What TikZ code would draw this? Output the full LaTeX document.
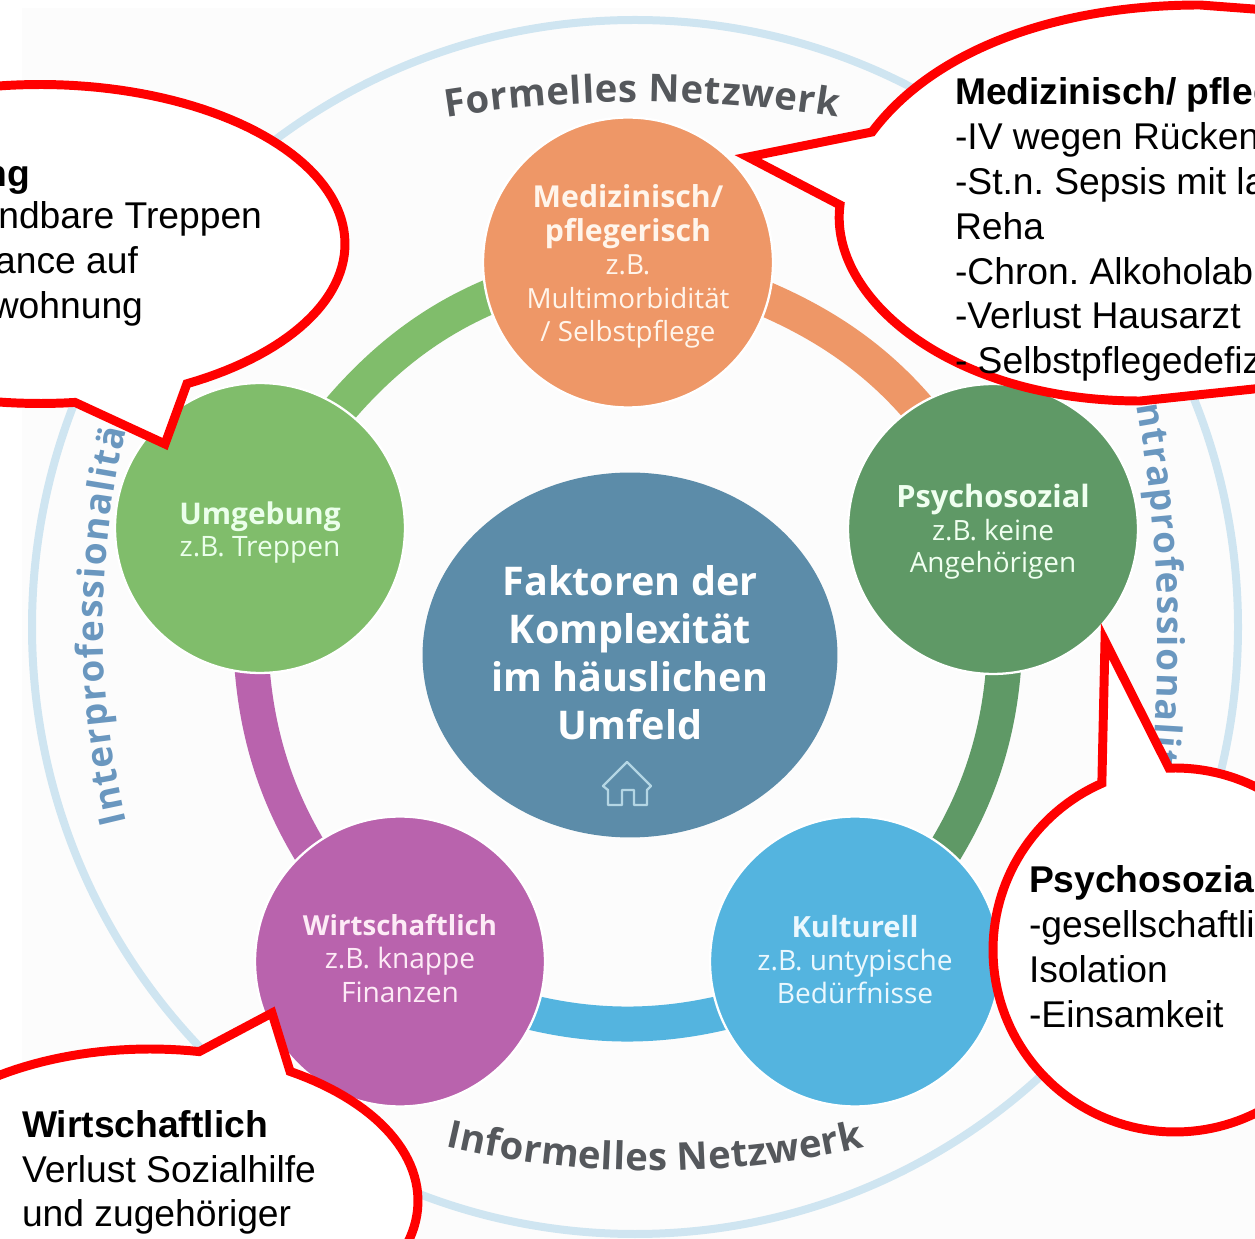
\documentclass[tikz,border=0pt]{standalone}
\usepackage{fontspec}
\setmainfont{Open Sans}
\newfontfamily\callfont{Liberation Sans}
\usetikzlibrary{decorations.text,shapes.geometric}
\pgfdeclarelayer{bgl}
\pgfdeclarelayer{arcl}
\pgfsetlayers{bgl,arcl,main}
\frenchspacing
\definecolor{cOrange}{HTML}{EE9767}
\definecolor{cGreen}{HTML}{80BD6B}
\definecolor{cDark}{HTML}{5F9966}
\definecolor{cBlue}{HTML}{54B4DF}
\definecolor{cPurple}{HTML}{B963AD}
\definecolor{cCentre}{HTML}{5C8CA9}
\definecolor{cRing}{HTML}{CFE5F1}
\definecolor{cLabel}{HTML}{55585C}
\definecolor{cSide}{HTML}{6A97BF}
\definecolor{cRed}{HTML}{FF0000}
\definecolor{cHouse}{HTML}{B4D6E4}
\tikzset{
  unit/.style={x=0.02cm,y=-0.02cm},
  factor/.style={circle,draw=white,line width=1.3pt,minimum size=5.8cm,inner sep=0pt,outer sep=0pt},
  factext/.style={inner sep=0pt,outer sep=0pt,align=center},
  band/.style={line width=0.7cm,line cap=butt,looseness=.86,shorten >=-4pt,shorten <=-4pt},
  callout/.style={draw=cRed,fill=white,line width=5.1pt,line join=miter,miter limit=10},
  calltext/.style={font=\callfont\fontsize{21.2}{25.6}\selectfont,text=black,inner sep=0pt,outer sep=0pt,anchor=base west},
  callend/.style={calltext,anchor=base east},
}
\newcommand{\hd}[2]{{\fontsize{#1}{19}\selectfont\bfseries #2}}
\begin{document}
\begin{tikzpicture}[unit]
\useasboundingbox (0,0) rectangle (1255,1239);
\clip (0,0) rectangle (1255,1239);
\begin{pgfonlayer}{bgl}
\fill[white] (0,0) rectangle (1255,1239);
\fill[white!99!black] (22,8) rectangle (1255,1239);
\draw[cRing,line width=0.16cm] (635,627) ellipse [x radius=603,y radius=607];
\end{pgfonlayer}
% factor circles
\node[factor,fill=cOrange] (med) at (628,262.5) {};
\node[factor,fill=cGreen] (umg) at (260,528) {};
\node[factor,fill=cDark] (psy) at (993,529) {};
\node[factor,fill=cPurple] (wir) at (400,961.5) {};
\node[factor,fill=cBlue] (kul) at (855,961.5) {};
\node[factext,text=orange!8!white,font=\fontsize{15.8}{19}\selectfont] (medtext) at (628,266.5)
  {\hd{17.2}{Medizinisch/}\\ \hd{17.2}{pflegerisch}\\ z.B.\\ Multimorbidität\\ / Selbstpflege};
\node[factext,text=green!8!white,font=\fontsize{16}{18.7}\selectfont] (umgtext) at (260,532.5)
  {\hd{17}{Umgebung}\\ z.B. Treppen};
\node[factext,text=green!6!white,font=\fontsize{15.9}{18.5}\selectfont] (psytext) at (993,532)
  {\hd{17.5}{Psychosozial}\\ z.B. keine\\ Angehörigen};
\node[factext,text=magenta!8!white,font=\fontsize{16}{19}\selectfont] (wirtext) at (400,958.5)
  {\hd{15.7}{Wirtschaftlich}\\ z.B. knappe\\ Finanzen};
\node[factext,text=cyan!8!white,font=\fontsize{16}{18.8}\selectfont] (kultext) at (855,959.5)
  {\hd{16.6}{Kulturell}\\ z.B. untypische\\ Bedürfnisse};
\node[ellipse,fill=cCentre,minimum width=8.3cm,minimum height=7.3cm,inner sep=0pt] (centre) at (630,655) {};
\node[inner sep=0pt,align=center,text=white,font=\fontsize{22.5}{27.3}\selectfont\bfseries] (centretext) at (630,653)
  {Faktoren der\\ Komplexität\\ im häuslichen\\ Umfeld};
% house
\draw[cHouse,line width=1.3pt,line join=round] (603,786) -- (627,762) -- (651,786) -- (647,790) -- (647,805) -- (634,805) -- (634,790) -- (622,790) -- (622,805) -- (608,805) -- (608,790) -- cycle;
% connecting bands
\begin{pgfonlayer}{arcl}
\draw[band,cGreen] (umg.56.7) to[out=49.8,in=202.5] (med.194.7);
\draw[band,cOrange] (med.-15.4) to[out=-22.9,in=130.2] (psy.122);
\draw[band,cDark] (psy.-86.5) to[out=-94.3,in=58.1] (kul.51);
\draw[band,cBlue] (kul.201.3) to[out=-166.3,in=-13.8] (wir.-21.3);
\draw[band,cPurple] (wir.129.3) to[out=121.7,in=274.3] (umg.267);
\end{pgfonlayer}
% curved labels
\path[decorate,decoration={text along path,text align={fit to path},text={|\fontsize{21.8}{25}\selectfont\bfseries\color{cLabel}|Formelles Netzwerk}}]
  plot[domain=-98.9:-81.0,samples=30] ({641+1260*cos(\x)},{1362+1260*sin(\x)});
\path[decorate,decoration={text along path,text align={fit to path},text={|\fontsize{21.8}{25}\selectfont\bfseries\color{cLabel}|Informelles Netzwerk}}]
  plot[domain=103.3:76.8,samples=30] ({656+913*cos(\x)},{258+913*sin(\x)});
\path[decorate,decoration={text along path,text align={fit to path},text={|\fontsize{21}{25}\selectfont\bfseries\color{cSide}|Interprofessionalität}}]
  plot[domain=166.4:194.7,samples=40] ({941+838*cos(\x)},{625+838*sin(\x)});
\path[decorate,decoration={text along path,text align={fit to path},text={|\fontsize{21}{25}\selectfont\bfseries\color{cSide}|Intraprofessionalität}}]
  plot[domain=-11:7.3,samples=40] ({-142+1300*cos(\x)},{640+1300*sin(\x)});
% callouts
\draw[callout] plot[domain=61.2:-276.6,samples=160] ({40+305*cos(\x)},{244+159.5*sin(\x)}) -- (165,444) -- cycle;
\draw[callout] (748,157) -- (872,132) .. controls (935,48) and (1060,5) .. (1200,5) -- (1320,14) -- (1320,382) -- (1140,401) .. controls (950,401) and (828,297) .. (840,205) -- cycle;
\draw[callout] plot[domain=-113.7:-451.9,samples=160] ({1175+182*cos(\x)},{950+182*sin(\x)}) -- (1105,641) -- cycle;
\draw[callout] plot[domain=-58.5:280.6,samples=160] ({150+268*cos(\x)},{1201+152*sin(\x)}) -- (272,1013) -- cycle;
% callout texts
\node[callend] (t1a) at (30,187) {\textbf{ng}};
\node[callend] (t1b) at (262,229) {ndbare Treppen};
\node[callend] (t1c) at (138,274) {ance auf};
\node[callend] (t1d) at (143,319) {wohnung};
\node[calltext] (t2a) at (955,105) {\textbf{Medizinisch/ pfleg}};
\node[calltext] (t2b) at (955,150) {-IV wegen Rücken};
\node[calltext] (t2c) at (955,195) {-St.n. Sepsis mit la};
\node[calltext] (t2d) at (955,240) {Reha};
\node[calltext] (t2e) at (955,285) {-Chron. Alkoholabu};
\node[calltext] (t2f) at (955,329) {-Verlust Hausarzt};
\node[calltext] (t2g) at (955,374) {- Selbstpflegedefiz};
\node[calltext] (t3a) at (1029,893) {\textbf{Psychosozia}};
\node[calltext] (t3b) at (1029,938) {-gesellschaftli};
\node[calltext] (t3c) at (1029,983) {Isolation};
\node[calltext] (t3d) at (1029,1028) {-Einsamkeit};
\node[calltext] (t4a) at (22,1137) {\textbf{Wirtschaftlich}};
\node[calltext] (t4b) at (22,1182) {Verlust Sozialhilfe};
\node[calltext] (t4c) at (22,1226) {und zugehöriger};
\end{tikzpicture}
\end{document}
